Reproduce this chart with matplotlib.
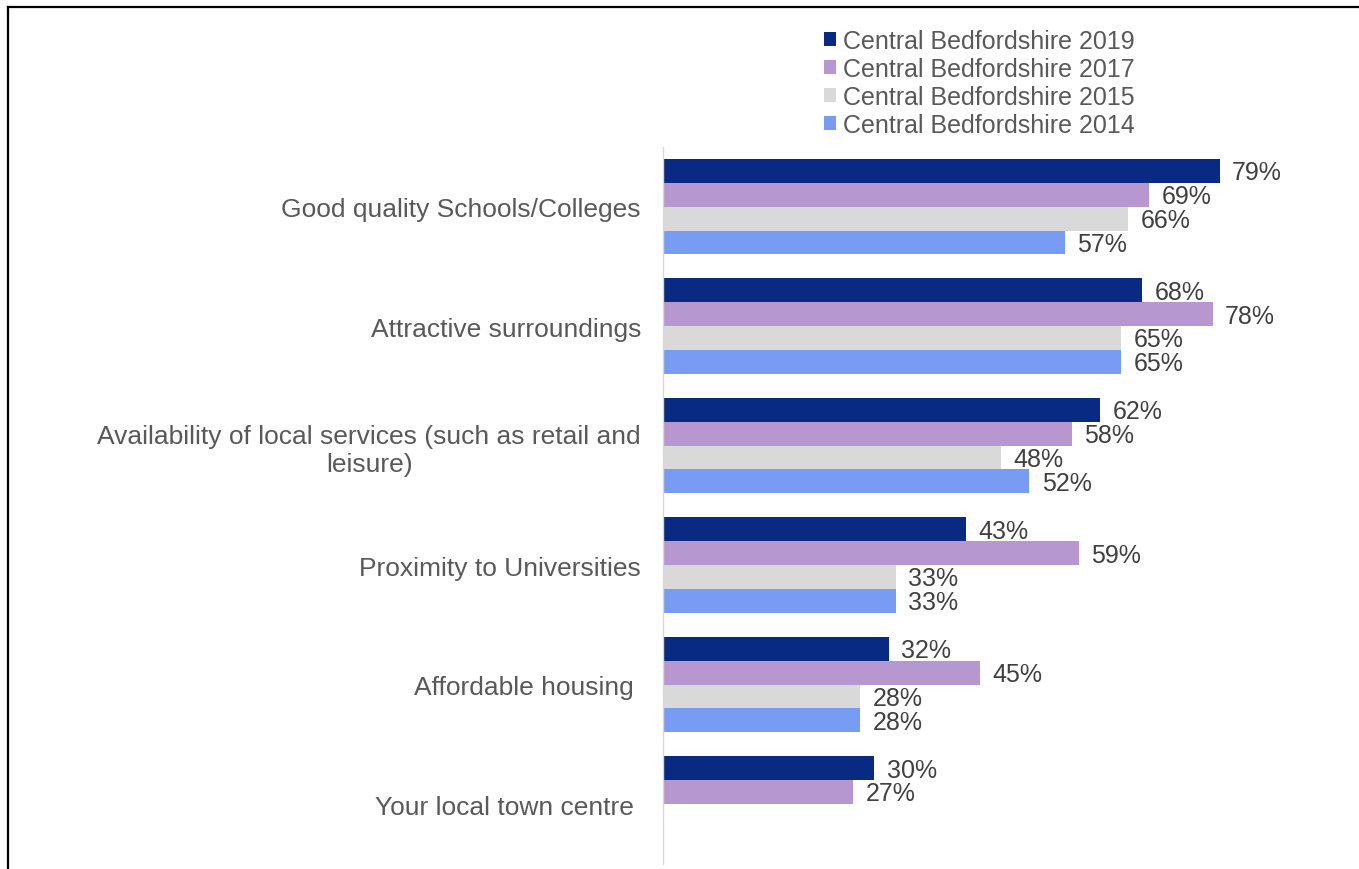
import numpy as np
import matplotlib
matplotlib.use('Agg')
import matplotlib.pyplot as plt
from matplotlib.patches import Patch
from matplotlib.lines import Line2D

plt.rcParams['font.family'] = ['Liberation Sans', 'DejaVu Sans']

categories = ['Good quality Schools/Colleges',
              'Attractive surroundings',
              'Availability of local services (such as retail and\nleisure)',
              'Proximity to Universities',
              'Affordable housing ',
              'Your local town centre ']
series_names = ['Central Bedfordshire 2019', 'Central Bedfordshire 2017',
                'Central Bedfordshire 2015', 'Central Bedfordshire 2014']
values_2019 = [79, 68, 62, 43, 32, 30]
values_2017 = [69, 78, 58, 59, 45, 27]
values_2015 = [66, 65, 48, 33, 28, np.nan]
values_2014 = [57, 65, 52, 33, 28, np.nan]

all_values = [values_2019, values_2017, values_2015, values_2014]
colors = ['#082a82', '#b797cf', '#d9d9d9', '#789cf4']
text_color = '#595959'

fig = plt.figure(figsize=(13.59, 8.70), dpi=100)
ax = fig.add_axes([0.488, 0.006, 0.482, 0.824])

y = np.arange(len(categories))
height = 0.2
offsets = [-0.3, -0.1, 0.1, 0.3]

for vals, off, col in zip(all_values, offsets, colors):
    vals = np.array(vals, dtype=float)
    ax.barh(y + off, vals, height=height, color=col, linewidth=0)
    for yi, v in zip(y, vals):
        if np.isnan(v):
            continue
        ax.annotate(f'{v:.0f}%', xy=(v, yi + off), xytext=(9, -1),
                    textcoords='offset points', va='center', ha='left',
                    fontsize=18, color='#404040')

ax.set_xlim(0, 93)
ax.set_ylim(5.5, -0.5)
ax.set_yticks(y)
ax.set_yticklabels(categories, fontsize=19, color=text_color,
                   multialignment='center')
ax.tick_params(axis='y', length=0, pad=16)
ax.xaxis.set_visible(False)
for side in ['top', 'right', 'bottom']:
    ax.spines[side].set_visible(False)
ax.spines['left'].set_color('#d9d9d9')
ax.spines['left'].set_linewidth(1)

handles = [Patch(facecolor=c, edgecolor='none') for c in colors]
leg = fig.legend(handles, series_names, loc='upper left',
                 bbox_to_anchor=(0.606, 0.966), frameon=False, fontsize=18,
                 handlelength=0.48, handleheight=0.48, handletextpad=0.3,
                 labelspacing=0.16, borderpad=0, borderaxespad=0)
for t in leg.get_texts():
    t.set_color(text_color)

# frame edges along the left and top
fig.add_artist(Line2D([0.0062, 0.0062], [0.0, 0.9905], color='black', lw=1.6,
                      transform=fig.transFigure))
fig.add_artist(Line2D([0.0062, 1.0], [0.9905, 0.9905], color='black', lw=1.6,
                      transform=fig.transFigure))

fig.savefig('out.png', dpi=100)
